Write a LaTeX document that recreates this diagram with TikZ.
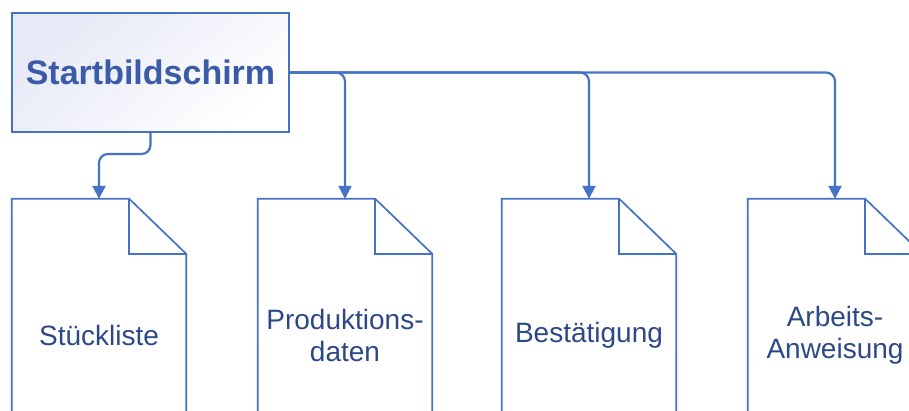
\documentclass[tikz,border=0pt]{standalone}
\usepackage{fontspec}
\setmainfont{Liberation Sans}
\usepackage{tikz}
\usetikzlibrary{calc, arrows.meta}

\definecolor{lineblue}{RGB}{68,114,196}
\definecolor{titleblue}{RGB}{59,91,168}
\definecolor{textblue}{RGB}{44,72,134}
\definecolor{lavender}{RGB}{230,233,246}

\tikzset{
    startbox/.style={draw=lineblue, line width=2pt, minimum width=277pt, minimum height=119pt,
        top color=lavender, bottom color=white, shading angle=40,
        text=titleblue, font=\fontsize{34}{38}\selectfont\bfseries},
    docbox/.style={minimum width=174pt, minimum height=272pt, align=center, inner sep=0pt,
        text=textblue, font=\fontsize{28}{32}\selectfont},
    docline/.style={draw=lineblue, line width=1.7pt, line join=miter},
    link/.style={draw=lineblue, line width=2.2pt, rounded corners=9pt,
        -{Triangle[length=13pt,width=13pt]}}
}

\begin{document}
\begin{tikzpicture}[x=1pt, y=-1pt]
            \clip (0,0) rectangle (909,411);
            \node[startbox] (start) at (150.5,72.5) {Startbildschirm};
            \node[docbox] (stueck) at (99,335) {St\"uckliste};
            \node[docbox] (prod) at (345,335) {Produktions-\\daten};
            \node[docbox] (best) at (589,335) {Best\"atigung};
            \node[docbox] (arb) at (835,335) {Arbeits-\\Anweisung};
            \foreach \d in {stueck,prod,best,arb}{
                \coordinate (\d-fold) at ($(\d.north east)+(-57,0)$);
                \draw[docline] (\d.north west) -- (\d-fold) -- ++(57,55)
                    -- (\d.south east) -- (\d.south west) -- cycle;
                \draw[docline] (\d-fold) -- ++(0,55) -- ++(57,0);
            }
            \draw[link] (start.south) -- ++(0,21) -| (stueck.north);
            \draw[link] (start.east) -| (prod.north);
            \draw[link] (start.east) -| (best.north);
            \draw[link] (start.east) -| (arb.north);
        \end{tikzpicture}
\end{document}
